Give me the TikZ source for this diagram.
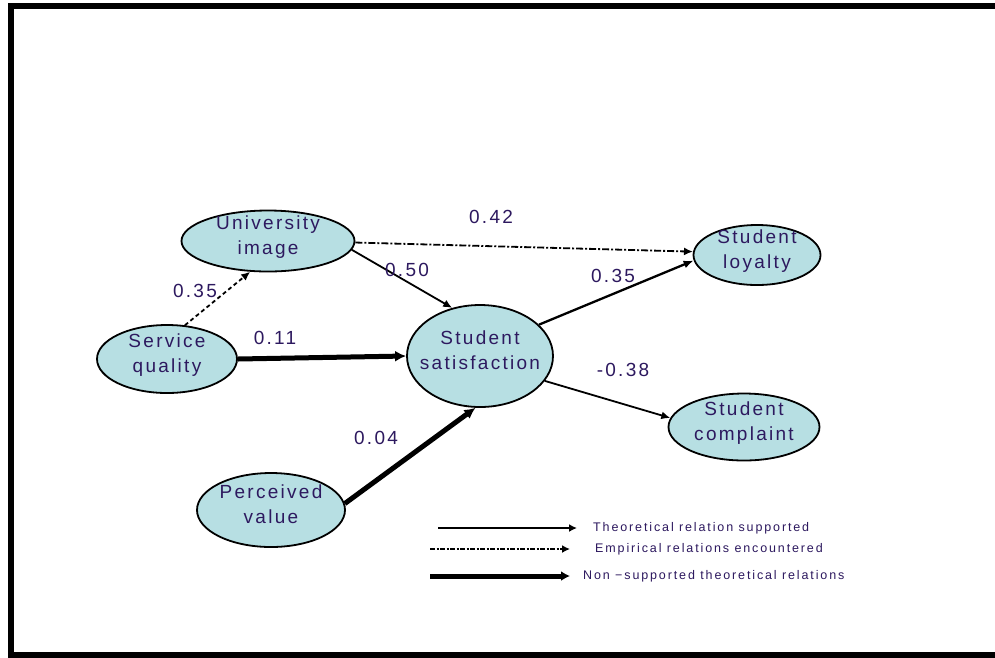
\documentclass[tikz,border=0pt]{standalone}
\usepackage{fontspec}
\setmainfont{Liberation Sans}
\newfontfamily\nodefont[LetterSpace=12]{Liberation Sans}
\newfontfamily\legfont[LetterSpace=15]{Liberation Sans}
\usetikzlibrary{shapes.geometric,arrows.meta}
\definecolor{ellfill}{RGB}{183,223,227}
\definecolor{txtc}{RGB}{45,25,95}
\newcommand{\ctxt}[2]{\makebox[0pt]{\smash{\begin{tabular}{@{}c@{}}#1\\#2\end{tabular}}}}
\begin{document}
\begin{tikzpicture}[x=1pt,y=-1pt,
  construct/.style={ellipse, draw=black, line width=1.8pt, fill=ellfill, inner sep=0pt,
    text=txtc, font=\nodefont\fontsize{19}{25}\selectfont},
  coef/.style={text=txtc, font=\nodefont\fontsize{19}{23}\selectfont, inner sep=0pt},
  legtext/.style={text=txtc, font=\legfont\fontsize{12.5}{14}\selectfont, inner sep=0pt, anchor=west},
  thinarrow/.style={line width=1.8pt, -{Latex[length=9pt,width=8pt]}},
  medarrow/.style={line width=2.3pt, -{Latex[length=10pt,width=8pt]}},
  thickarrow/.style={line width=5pt, -{Latex[length=11pt,width=11pt]}},
  dasharrow/.style={line width=1.8pt, dash pattern=on 4pt off 3pt, -{Latex[length=9pt,width=8pt]}},
  dashdotarrow/.style={line width=1.8pt, dash pattern=on 7pt off 2pt on 2pt off 2pt, -{Latex[length=9pt,width=8pt]}},
]
\path[use as bounding box] (0,0) rectangle (995,657);
\clip (0,0) rectangle (995,657);
\fill[white] (0,0) rectangle (995,657);
% frame
\draw[line width=6.5pt, black] (1010,6) -- (11,6) -- (11,655.5) -- (1010,655.5);

% constructs
\node[construct, minimum width=173pt, minimum height=61pt] (ui) at (268,241) {\ctxt{University}{image}};
\node[construct, minimum width=140pt, minimum height=68pt] (sq) at (167,359) {\ctxt{Service}{quality}};
\node[construct, minimum width=146pt, minimum height=102pt] (ss) at (480,356) {\ctxt{Student}{satisfaction}};
\node[construct, minimum width=127pt, minimum height=60pt] (sl) at (757,255) {\ctxt{Student}{loyalty}};
\node[construct, minimum width=151pt, minimum height=67pt] (sc) at (744,427) {\ctxt{Student}{complaint}};
\node[construct, minimum width=148pt, minimum height=74pt] (pv) at (271,510) {\ctxt{Perceived}{value}};

% paths
\draw[dasharrow] (sq.62) -- (ui.-120);
\draw[dashdotarrow] (ui.-1) -- (sl.177);
\draw[thinarrow] (ui.-6) -- (ss.120);
\draw[thickarrow] (sq.east) -- (ss.west);
\draw[thickarrow] (pv.5) -- (ss.265);
\draw[medarrow] (ss.28) -- (sl.185);
\draw[thinarrow] (ss.-21) -- (sc.173);

% coefficients
\node[coef] (c1) at (195,291) {0.35};
\node[coef] (c2) at (275,338) {0.11};
\node[coef] (c3) at (491,217) {0.42};
\node[coef] (c4) at (407,270) {0.50};
\node[coef] (c5) at (613,276) {0.35};
\node[coef] (c6) at (623,370) {-0.38};
\node[coef] (c7) at (376,438) {0.04};

% legend
\coordinate (l1a) at (438,528); \coordinate (l1b) at (577,528);
\coordinate (l2a) at (430,549); \coordinate (l2b) at (570,549);
\coordinate (l3a) at (430,576); \coordinate (l3b) at (570,576);
\draw[line width=2.5pt, -{Latex[length=8pt,width=8pt]}] (l1a) -- (l1b);
\draw[line width=2.5pt, dash pattern=on 5pt off 1.5pt on 2pt off 1.5pt, -{Latex[length=8pt,width=8pt]}] (l2a) -- (l2b);
\draw[line width=5pt, -{Latex[length=9pt,width=10pt]}] (l3a) -- (l3b);
\node[legtext] (t1) at (593,528) {Theoretical relation supported};
\node[legtext] (t2) at (595,549) {Empirical relations encountered};
\node[legtext] (t3) at (583,576) {Non −supported theoretical relations};
\end{tikzpicture}
\end{document}
